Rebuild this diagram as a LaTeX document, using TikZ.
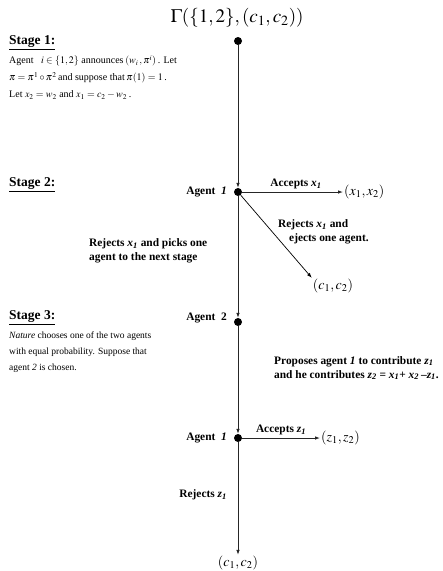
\documentclass[tikz,border=0pt]{standalone}
\usepackage{mathptmx}
\usepackage[no-math]{fontspec}
\setmainfont{Liberation Serif}
\usepackage{tikz}
\usetikzlibrary{positioning,arrows.meta}

\newcommand{\vsub}[2]{\textit{#1}\textsubscript{\textit{#2}}}

\begin{document}
\begin{tikzpicture}[
    x=1pt,y=-1pt,>={Latex[length=5pt,width=3.6pt]},
    dot/.style={circle,fill=black,minimum size=8pt,inner sep=0pt},
    lab/.style={font=\fontsize{11.4}{14}\selectfont\bfseries,align=left,inner sep=1pt},
    payoff/.style={font=\fontsize{14}{16}\selectfont,inner sep=1pt},
    stagehead/.style={anchor=west,font=\fontsize{13.5}{15}\selectfont\bfseries,inner sep=0pt},
    note/.style={anchor=north west,align=left,inner sep=0pt},
    move/.style={->,draw=black!85,line width=0.9pt}
]
\useasboundingbox (0,0) rectangle (443,571);

\node[font=\fontsize{19}{22}\selectfont] (game) at (237,18)
  {$\Gamma(\{1,2\},(c_1,c_2))$};

% decision points
\node[dot] (root) at (238,41) {};
\node[dot] (a1) at (238,192) {};
\node[dot] (a2) at (238,322) {};
\node[dot] (a3) at (238,438) {};

% stage texts
\node[stagehead] (st1) at (9,43) {\underline{Stage 1:}};
\node[note,font=\fontsize{10}{17}\selectfont] (st1txt) at (9,55)
  {Agent\ \ \ $i\in\{1,2\}$ announces\,$(w_i\,,\pi^i)$\,. Let\\
   $\pi=\pi^1\circ\pi^2$\,and suppose that\,$\pi(1)=1$\,.\\
   Let $x_2=w_2$ and $x_1=c_2-w_2$\,.};
\node[stagehead] (st2) at (9,185) {\underline{Stage 2:}};
\node[stagehead] (st3) at (9,318) {\underline{Stage 3:}};
\node[note,font=\fontsize{9.5}{16}\selectfont] (st3txt) at (9,332)
  {\textit{Nature} chooses one of the two agents\\
   with equal probability. Suppose that\\
   agent \textit{2} is chosen.};

% players
\node[lab,anchor=east] (p1) at (228,192) {Agent \ \textit{1}};
\node[lab,anchor=east] (p2) at (228,318) {Agent \ 2};
\node[lab,anchor=east] (p3) at (228,438) {Agent \ \textit{1}};

% outcomes
\node[payoff,anchor=west] (ox) at (343,192) {$(x_1,x_2)$};
\node[payoff] (oc1) at (333,286) {$(c_1,c_2)$};
\node[payoff,anchor=west] (oz) at (320,438) {$(z_1,z_2)$};
\node[payoff] (oc2) at (238,563) {$(c_1,c_2)$};

% moves
\draw[move] (root) -- (a1);
\draw[move] (a1) -- (ox.west);
\draw[->,line width=0.7pt] (a1) -- (oc1.north west);
\draw[move] (a1) -- (a2);
\draw[move] (a2) -- (a3);
\draw[move] (a3) -- (oz.west);
\draw[move] (a3) -- (oc2.north);

% move labels
\node[lab] (acc1) at (296,184) {Accepts \vsub{x}{1}};
\node[lab,anchor=west] (ej) at (277,232)
  {Rejects \vsub{x}{1} and\\\hspace*{11pt}ejects one agent.};
\node[lab,anchor=west] (pick) at (88,251)
  {Rejects \vsub{x}{1} and picks one\\agent to the next stage};
\node[lab,anchor=west] (prop) at (273,368)
  {Proposes agent \textit{1} to contribute \vsub{z}{1}\\
   and he contributes \vsub{z}{2} = \vsub{x}{1}+ \vsub{x}{2}\,\textendash\vsub{z}{1}.};
\node[lab] (acc2) at (281,430) {Accepts \vsub{z}{1}};
\node[lab,anchor=east] (rej) at (228,495) {Rejects \vsub{z}{1}};
\end{tikzpicture}
\end{document}
